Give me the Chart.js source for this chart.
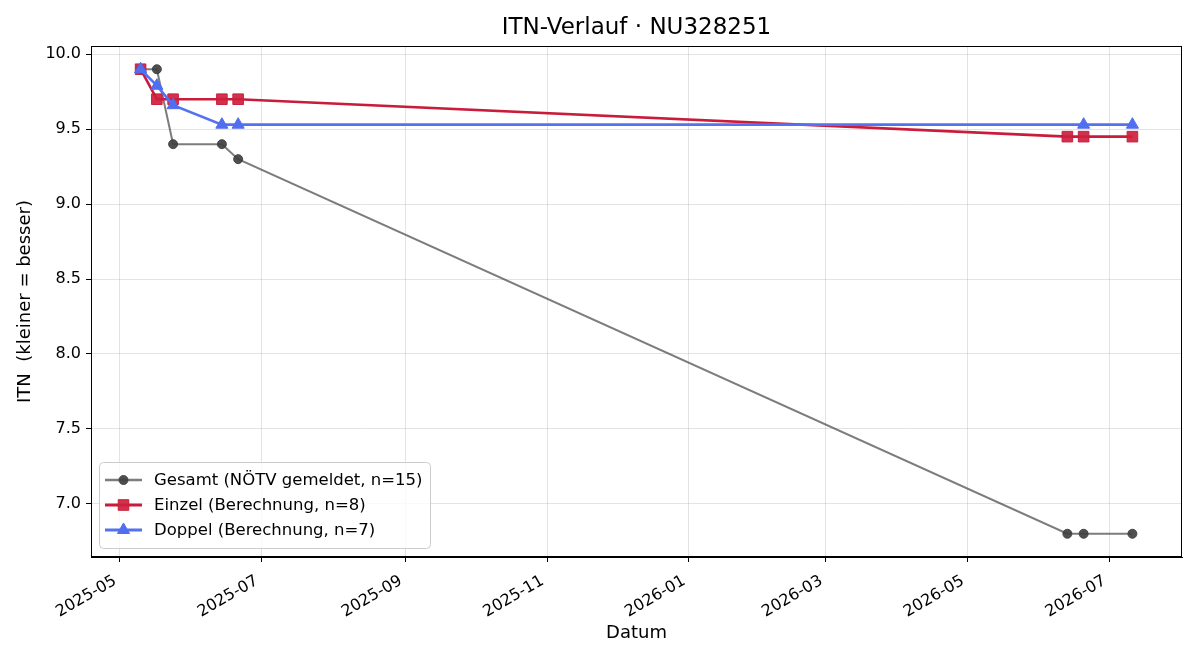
<!DOCTYPE html>
<html>
<head>
<meta charset="utf-8">
<script src="https://cdn.jsdelivr.net/npm/chart.js@4/dist/chart.umd.min.js"></script>
<style>
  body { margin: 0; background: #fff; }
</style>
</head>
<body>
<canvas id="itnChart" width="1200" height="660"></canvas>
<script>
// --- data ---
const tickDates = ['2025-05-01', '2025-07-01', '2025-09-01', '2025-11-01', '2026-01-01', '2026-03-01', '2026-05-01', '2026-07-01'];
const tickLabels = ['2025-05', '2025-07', '2025-09', '2025-11', '2026-01', '2026-03', '2026-05', '2026-07'];
const yTicks = [7.0, 7.5, 8.0, 8.5, 9.0, 9.5, 10.0];

const gesamtDates = ['2025-05-10', '2025-05-17', '2025-05-24', '2025-06-14', '2025-06-21', '2026-06-13', '2026-06-20', '2026-07-11'];
const gesamtValues = [9.9, 9.9, 9.4, 9.4, 9.3, 6.8, 6.8, 6.8];

const einzelDates = ['2025-05-10', '2025-05-17', '2025-05-24', '2025-06-14', '2025-06-21', '2026-06-13', '2026-06-20', '2026-07-11'];
const einzelValues = [9.9, 9.7, 9.7, 9.7, 9.7, 9.45, 9.45, 9.45];

const doppelDates = ['2025-05-10', '2025-05-17', '2025-05-24', '2025-06-14', '2025-06-21', '2026-06-20', '2026-07-11'];
const doppelValues = [9.9, 9.79, 9.66, 9.53, 9.53, 9.53, 9.53];

const seriesNames = ['Gesamt (NÖTV gemeldet, n=15)', 'Einzel (Berechnung, n=8)', 'Doppel (Berechnung, n=7)'];
const chartTitle = 'ITN-Verlauf · NU328251';

// days since 2025-05-01, x axis is linear in days
const origin = Date.UTC(2025, 4, 1);
const toDay = s => {
  const [y, m, d] = s.split('-').map(Number);
  return (Date.UTC(y, m - 1, d) - origin) / 86400000;
};
const pts = (dates, vals) => dates.map((d, i) => ({ x: toDay(d), y: vals[i] }));

const allX = [...gesamtDates, ...einzelDates, ...doppelDates].map(toDay);
const allY = [...gesamtValues, ...einzelValues, ...doppelValues];
const xMin = Math.min(...allX), xMax = Math.max(...allX);
const yMin = Math.min(...allY), yMax = Math.max(...allY);
const xPad = (xMax - xMin) * 0.05, yPad = (yMax - yMin) * 0.05;

const FONT = '"DejaVu Sans", "Liberation Sans", sans-serif';

// full black frame round the plot area + title centred over it
const framePlugin = {
  id: 'frame',
  afterDatasetsDraw(chart) {
    const { ctx, chartArea: a } = chart;
    ctx.save();
    ctx.strokeStyle = '#000';
    ctx.lineWidth = 1;
    ctx.strokeRect(Math.round(a.left) + 0.5, Math.round(a.top) + 0.5,
      Math.round(a.right - a.left) - 1, Math.round(a.bottom - a.top) - 1);
    ctx.fillStyle = '#000';
    ctx.font = '23px ' + FONT;
    ctx.textAlign = 'center';
    ctx.textBaseline = 'middle';
    ctx.fillText(chartTitle, (a.left + a.right) / 2, 28);
    ctx.restore();
  }
};

// legend box in the lower left of the plot, like matplotlib's
const legendPlugin = {
  id: 'innerLegend',
  afterDraw(chart) {
    const { ctx, chartArea: a } = chart;
    const x0 = a.left + 8, y0 = a.bottom - 95, w = 331, h = 86;
    ctx.save();
    ctx.beginPath();
    ctx.roundRect(x0 + 0.5, y0 + 0.5, w, h, 4);
    ctx.fillStyle = 'rgba(255,255,255,0.8)';
    ctx.fill();
    ctx.strokeStyle = '#cccccc';
    ctx.lineWidth = 1;
    ctx.stroke();
    ctx.font = '16.5px ' + FONT;
    ctx.textBaseline = 'middle';
    ctx.textAlign = 'left';
    chart.data.datasets.forEach((ds, i) => {
      const cy = y0 + 18 + i * 25;
      ctx.beginPath();
      ctx.strokeStyle = ds.borderColor;
      ctx.lineWidth = ds.borderWidth + 0.4;
      ctx.moveTo(x0 + 6, cy);
      ctx.lineTo(x0 + 43, cy);
      ctx.stroke();
      ctx.fillStyle = ds.pointBackgroundColor;
      ctx.strokeStyle = ds.pointBorderColor;
      ctx.lineWidth = 1;
      Chart.helpers.drawPoint(ctx, { pointStyle: ds.pointStyle, radius: ds.pointRadius, rotation: 0, borderWidth: 1 }, x0 + 24.5, cy);
      ctx.fillStyle = '#000';
      ctx.fillText(seriesNames[i], x0 + 55, cy + 1);
    });
    ctx.restore();
  }
};

new Chart(document.getElementById('itnChart'), {
  type: 'line',
  data: {
    datasets: [
      {
        label: seriesNames[0],
        data: pts(gesamtDates, gesamtValues),
        borderColor: 'rgba(68,68,68,0.7)',
        borderWidth: 2,
        pointStyle: 'circle',
        pointRadius: 4.5,
        pointBackgroundColor: 'rgba(64,64,64,0.92)',
        pointBorderColor: 'rgba(64,64,64,0.92)',
        pointBorderWidth: 1,
        order: 3
      },
      {
        label: seriesNames[1],
        data: pts(einzelDates, einzelValues),
        borderColor: 'rgb(200,28,58)',
        borderWidth: 2.6,
        pointStyle: 'rect',
        pointRadius: 7.5,
        pointBackgroundColor: 'rgba(206,32,62,0.92)',
        pointBorderColor: 'rgba(200,28,58,0.95)',
        pointBorderWidth: 1,
        order: 2
      },
      {
        label: seriesNames[2],
        data: pts(doppelDates, doppelValues),
        borderColor: 'rgb(84,114,240)',
        borderWidth: 2.6,
        pointStyle: 'triangle',
        pointRadius: 7,
        pointBackgroundColor: 'rgb(80,110,240)',
        pointBorderColor: 'rgb(80,110,240)',
        pointBorderWidth: 1,
        order: 1
      }
    ]
  },
  options: {
    responsive: false,
    animation: false,
    devicePixelRatio: 1,
    layout: { padding: { left: 0, right: 18, top: 46, bottom: 0 } },
    elements: { line: { tension: 0 } },
    plugins: {
      legend: { display: false },
      tooltip: { enabled: false },
      title: { display: false }
    },
    scales: {
      x: {
        type: 'linear',
        min: xMin - xPad,
        max: xMax + xPad,
        afterBuildTicks: scale => { scale.ticks = tickDates.map(d => ({ value: toDay(d) })); },
        afterFit: scale => { scale.height = 103; },
        ticks: {
          autoSkip: false,
          minRotation: 30,
          maxRotation: 30,
          padding: 7,
          color: '#000',
          font: { family: FONT, size: 16 },
          // trailing space nudges the rotated label left of its tick like matplotlib's ha='right'
          callback: (v, i) => tickLabels[i] + ' '
        },
        grid: { color: 'rgba(176,176,176,0.35)', tickColor: '#000', tickLength: 5, drawTicks: true },
        border: { display: true, color: '#000', width: 1 },
        title: {
          display: true,
          text: 'Datum',
          color: '#000',
          font: { family: FONT, size: 18 },
          padding: { top: 4, bottom: 16 }
        }
      },
      y: {
        min: yMin - yPad,
        max: yMax + yPad,
        afterBuildTicks: scale => { scale.ticks = yTicks.map(v => ({ value: v })); },
        afterFit: scale => { scale.width = 91; },
        ticks: {
          padding: 5,
          color: '#000',
          font: { family: FONT, size: 16 },
          callback: v => v.toFixed(1)
        },
        grid: { color: 'rgba(176,176,176,0.35)', tickColor: '#000', tickLength: 5, drawTicks: true },
        border: { display: true, color: '#000', width: 1 },
        title: {
          display: true,
          text: 'ITN  (kleiner = besser)',
          color: '#000',
          font: { family: FONT, size: 18 },
          padding: { top: 15, bottom: 4 }
        }
      }
    }
  },
  plugins: [framePlugin, legendPlugin]
});
</script>
</body>
</html>
